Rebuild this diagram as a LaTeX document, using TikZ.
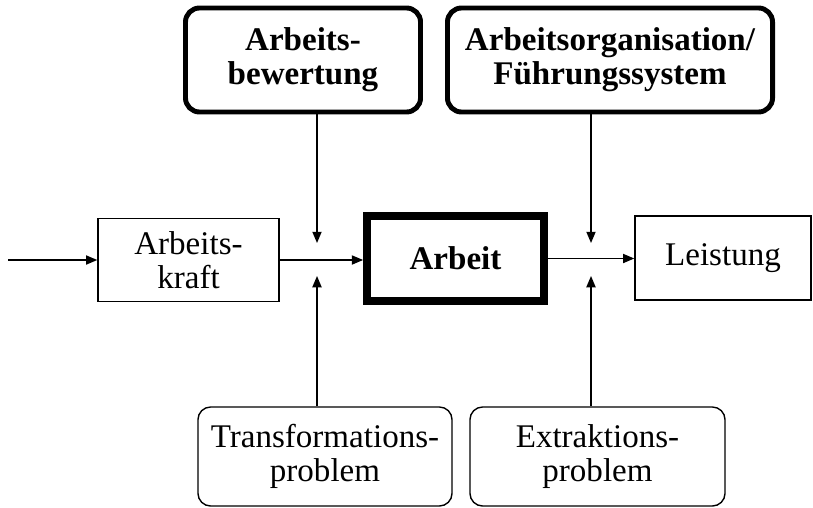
\documentclass[tikz,border=0pt]{standalone}
\usepackage{fontspec}
\setmainfont{Liberation Serif}
\usetikzlibrary{arrows.meta, positioning}

\begin{document}
\begin{tikzpicture}[x=0.025cm, y=-0.025cm, >={Triangle[length=8pt,width=6.5pt]},
  flow/.style={->, line width=1pt},
  plainbox/.style={draw, line width=1pt, inner sep=0pt, align=center, font=\fontsize{23.5}{24}\selectfont},
  mainbox/.style={draw, line width=5.5pt, inner sep=0pt, align=center, font=\fontsize{23.5}{25}\selectfont\bfseries},
  influence/.style={draw, rounded corners=10pt, line width=3.5pt, inner sep=0pt, align=center, font=\fontsize{23.5}{24}\selectfont\bfseries},
  problem/.style={draw, rounded corners=9pt, line width=1pt, inner sep=0pt, align=center, font=\fontsize{23.5}{24}\selectfont}]
\useasboundingbox (0,0) rectangle (813,507);
% main chain
\node[plainbox, minimum width=4.525cm, minimum height=2.075cm] (kraft) at (188.5,260) {Arbeits-\\kraft};
\node[mainbox, minimum width=4.425cm, minimum height=2.125cm] (arbeit) at (455.5,258.5) {Arbeit};
\node[plainbox, minimum width=4.4cm, minimum height=2.1cm] (leistung) at (723,258) {Leistung};
% influences from above
\node[influence, minimum width=5.875cm, minimum height=2.6cm] (bewertung) at (303,60) {Arbeits-\\bewertung};
\node[influence, minimum width=8.125cm, minimum height=2.6cm] (organisation) at (610,60) {Arbeitsorganisation/\\Führungssystem};
% problems from below
\node[problem, minimum width=6.35cm, minimum height=2.475cm] (transf) at (325,456.5) {Transformations-\\problem};
\node[problem, minimum width=6.375cm, minimum height=2.475cm] (extr) at (597.5,456.5) {Extraktions-\\problem};

\coordinate (input) at (8,260);
\coordinate (tipA1) at (317,243);
\coordinate (tipA2) at (317,276);
\coordinate (tipB1) at (591,243);
\coordinate (tipB2) at (591,276);

\draw[flow] (input) -- (kraft.west);
\draw[flow] (kraft.east) -- (kraft.east -| arbeit.west);
\draw[flow] (arbeit.east) -- (arbeit.east -| leistung.west);
\draw[flow] (bewertung.south -| tipA1) -- (tipA1);
\draw[flow] (transf.north -| tipA2) -- (tipA2);
\draw[flow] (organisation.south -| tipB1) -- (tipB1);
\draw[flow] (extr.north -| tipB2) -- (tipB2);
\end{tikzpicture}
\end{document}
